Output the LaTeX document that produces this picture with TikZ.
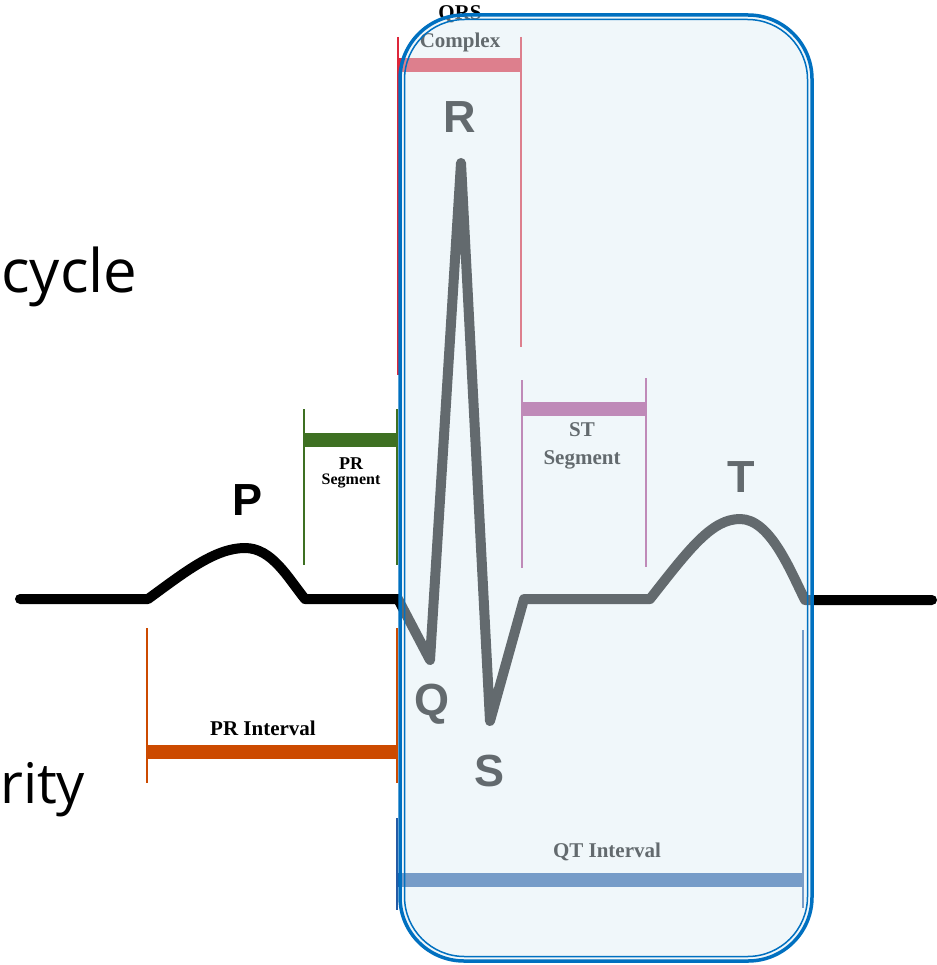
\documentclass[tikz,border=0pt]{standalone}
\usepackage{fontspec}
\setmainfont{Liberation Serif}
\newfontfamily\wavefont{Liberation Sans}
\newfontfamily\slidefont{Open Sans}
\usepackage{xcolor}
\usepackage{tikz}
\usetikzlibrary{positioning, calc}

\definecolor{qrsred}{RGB}{221,38,58}
\definecolor{prgreen}{RGB}{62,112,34}
\definecolor{storchid}{RGB}{168,58,136}
\definecolor{qtblue}{RGB}{35,90,165}
\definecolor{prorange}{RGB}{204,74,0}
\definecolor{boxblue}{RGB}{0,112,192}
\definecolor{veil}{RGB}{221,237,244}

\begin{document}
\begin{tikzpicture}[
    x=1pt, y=-1pt,
    trace/.style={line width=10pt, line cap=round, line join=round},
    tick/.style={line width=2pt},
    bar/.style={line width=14pt},
    wave/.style={font=\wavefont\bfseries\fontsize{45}{45}\selectfont, inner sep=0pt},
    seglabel/.style={font=\bfseries\fontsize{21}{28}\selectfont, align=center, inner sep=0pt},
    slide/.style={font=\slidefont\fontsize{60}{60}\selectfont, inner sep=0pt, anchor=base west}
]

\useasboundingbox (0,0) rectangle (936,965);

% words left over from the slide
\node[slide] (cyc) at (1,292) {cycle};
\node[slide, font=\slidefont\fontsize{56}{56}\selectfont] (rty) at (0,803) {rity};

% ECG trace
\draw[trace] (20,599) -- (148,599)
    .. controls (185,572) and (215,548) .. (245,548)
    .. controls (272,548) and (288,578) .. (305,599)
    -- (398,599) -- (430,660) -- (461,163) -- (490,721) -- (524,599) -- (650,599)
    .. controls (690,548) and (712,519) .. (740,519)
    .. controls (770,519) and (790,570) .. (805,600) -- (932,600);

% wave letters
\node[wave] (p) at (248,500) {P};
\node[wave] (r) at (460,117) {R};
\node[wave] (q) at (432,704) {Q};
\node[wave] (s) at (489,771) {S};
\node[wave] (t) at (741,477) {T};

% QRS complex
\draw[tick, qrsred] (398,37) -- (398,375);
\draw[tick, qrsred] (521,37) -- (521,347);
\draw[bar, qrsred] (398,65) -- (521,65);
\node[seglabel] (qrs) at (460,29) {QRS\\Complex};

% PR segment
\draw[tick, prgreen] (304,409) -- (304,565);
\draw[tick, prgreen] (397,409) -- (397,565);
\draw[bar, prgreen] (304,440) -- (397,440);
\node[font=\bfseries\fontsize{18}{18}\selectfont, inner sep=0pt] (prs) at (351,464) {PR};
\node[font=\bfseries\fontsize{16}{16}\selectfont, inner sep=0pt, below=4pt of prs] (prseg) {Segment};

% ST segment
\draw[tick, storchid] (522,380) -- (522,568);
\draw[tick, storchid] (646,378) -- (646,567);
\draw[bar, storchid] (522,409) -- (646,409);
\node[seglabel] (st) at (582,446) {ST\\Segment};

% PR interval
\draw[tick, prorange] (147,628) -- (147,783);
\draw[tick, prorange] (397,628) -- (397,783);
\draw[bar, prorange] (147,752) -- (397,752);
\node[seglabel] (pri) at (263,728) {PR Interval};

% QT interval
\draw[tick, qtblue] (397,818) -- (397,910);
\draw[tick, qtblue] (803,630) -- (803,908);
\draw[bar, qtblue] (397,880) -- (803,880);
\node[seglabel] (qti) at (607,852) {QT Interval};

% highlight over the ventricular part
\fill[veil, fill opacity=0.45, rounded corners=64] (400,15) rectangle (812,961);
\draw[boxblue, line width=3.5pt, rounded corners=64] (400,15) rectangle (812,961);
\draw[boxblue, line width=1.5pt, rounded corners=60] (404.5,19.5) rectangle (807.5,956.5);

\end{tikzpicture}
\end{document}
